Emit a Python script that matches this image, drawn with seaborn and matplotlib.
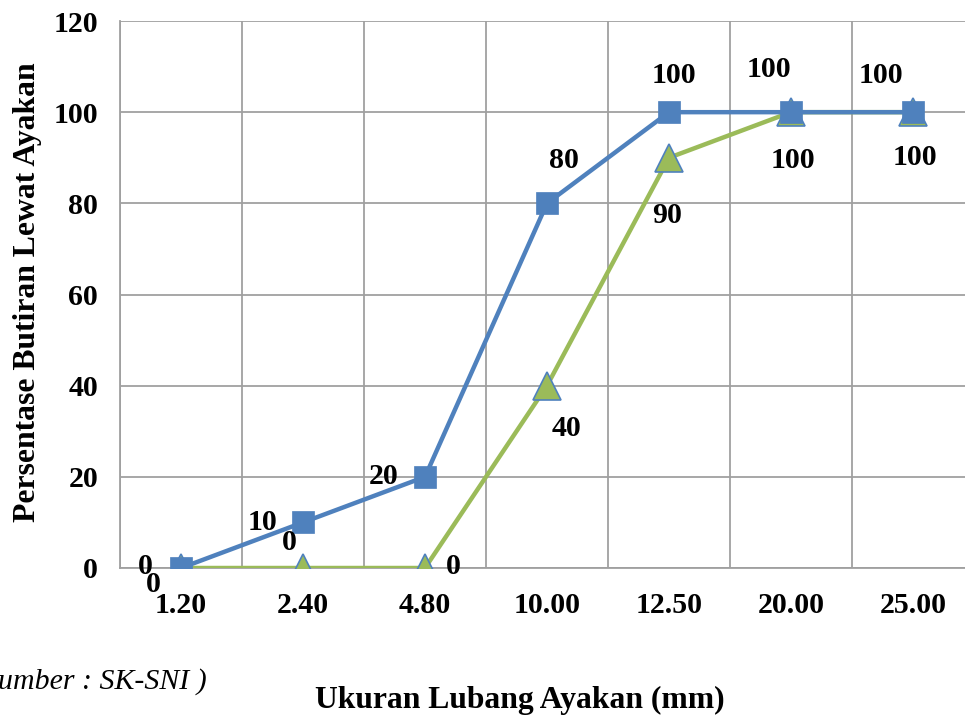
import matplotlib
matplotlib.use("Agg")
import matplotlib.pyplot as plt
import seaborn as sns
import pandas as pd
from matplotlib.ticker import FixedLocator

# Sieve sizes (mm) and cumulative percent passing
sieve_sizes = ["1.20", "2.40", "4.80", "10.00", "12.50", "20.00", "25.00"]
upper_limit = [0, 10, 20, 80, 100, 100, 100]
lower_limit = [0, 0, 0, 40, 90, 100, 100]

# label offsets in pixels (dx, dy) for each point's value label
upper_offsets = [(-36, -1), (-40, 0), (-41, 0), (17, -43), (5, -37), (-22, -43), (-32, -37)]
lower_offsets = [(-28, 16), (-14, -25), (28, -2), (20, 43), (-2, 58), (2, 48), (2, 45)]

BLUE = "#4F81BD"
GREEN = "#9BBB59"
GRID = "#A0A0A0"
FS = 21.5

sns.set_style("white")
plt.rcParams["font.family"] = ["Liberation Serif", "DejaVu Serif"]
plt.rcParams["font.weight"] = "bold"
plt.rcParams["text.color"] = "black"
plt.rcParams["axes.labelcolor"] = "black"

W, H = 965, 722
fig = plt.figure(figsize=(W / 100, H / 100), dpi=100)
left_px, right_px, top_px, bottom_px = 120, 965, 21, 568
ax = fig.add_axes([left_px / W, (H - bottom_px) / H,
                   (right_px - left_px) / W, (bottom_px - top_px) / H])

pos = list(range(len(sieve_sizes)))
df = pd.DataFrame({"pos": pos, "upper": upper_limit, "lower": lower_limit})

sns.lineplot(data=df, x="pos", y="lower", ax=ax, color=GREEN, linewidth=3.2,
             marker="^", markersize=19.5, markerfacecolor=GREEN,
             markeredgecolor=BLUE, markeredgewidth=1.2, zorder=3)
sns.lineplot(data=df, x="pos", y="upper", ax=ax, color=BLUE, linewidth=3.2,
             marker="s", markersize=16, markerfacecolor=BLUE,
             markeredgecolor=BLUE, markeredgewidth=0.5, zorder=4)

cat_w = 122 / 845  # fraction of axis width per category
ax.set_xlim(-0.5, -0.5 + 1 / cat_w)
ax.set_ylim(0, 120)

ax.set_xticks(pos)
ax.set_xticklabels(sieve_sizes)
ax.xaxis.set_minor_locator(FixedLocator([p - 0.5 for p in range(len(sieve_sizes) + 1)]))
ax.set_yticks(range(0, 121, 20))

ax.grid(False)
ax.grid(True, which="minor", axis="x", color=GRID, linewidth=1.3)
ax.grid(True, which="major", axis="y", color=GRID, linewidth=1.3)
ax.set_axisbelow(True)

ax.tick_params(axis="x", which="both", length=0, pad=17, labelsize=FS, labelcolor="black")
ax.tick_params(axis="y", which="major", length=5.8, width=1.3, color=GRID,
               direction="out", pad=10, labelsize=FS, labelcolor="black")
for lab in ax.get_xticklabels() + ax.get_yticklabels():
    lab.set_fontweight("bold")

for side in ["top", "right"]:
    ax.spines[side].set_visible(False)
for side in ["left", "bottom"]:
    ax.spines[side].set_color(GRID)
    ax.spines[side].set_linewidth(1.3)

# value labels
for i, (v, (dx, dy)) in enumerate(zip(lower_limit, lower_offsets)):
    ax.annotate(f"{v}", (i, v), xytext=(dx * 0.72, -dy * 0.72), textcoords="offset points",
                ha="center", va="center", fontsize=FS, fontweight="bold", zorder=6)
for i, (v, (dx, dy)) in enumerate(zip(upper_limit, upper_offsets)):
    ax.annotate(f"{v}", (i, v), xytext=(dx * 0.72, -dy * 0.72), textcoords="offset points",
                ha="center", va="center", fontsize=FS, fontweight="bold", zorder=6)

ax.set_xlabel("Ukuran Lubang Ayakan (mm)", fontsize=22.8, fontweight="bold")
ax.set_ylabel("Persentase Butiran Lewat Ayakan", fontsize=22.8, fontweight="bold")
ax.xaxis.set_label_coords((520 - left_px) / 845, (bottom_px - 700) / 547)
ax.yaxis.set_label_coords((28 - left_px) / 845, (bottom_px - 292) / 547)
ax.xaxis.label.set_va("center")
ax.yaxis.label.set_va("center")

fig.text(207 / W, 1 - 682 / H, "(Sumber : SK-SNI )", ha="right", va="center",
         fontsize=21.5, fontstyle="italic", fontweight="normal")

fig.savefig("out.png", dpi=100, facecolor="white")
